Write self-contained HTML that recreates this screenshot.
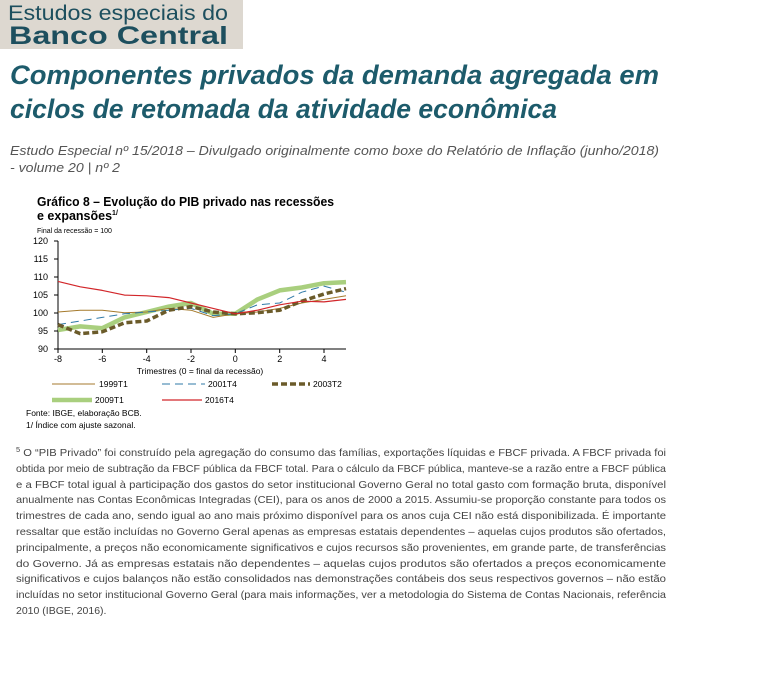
<!DOCTYPE html>
<html><head><meta charset="utf-8"><style>
html,body{margin:0;padding:0;background:#fff;}
svg{display:block;font-family:"Liberation Sans",sans-serif;}
</style></head><body>
<svg width="781" height="687" viewBox="0 0 781 687" xmlns="http://www.w3.org/2000/svg">
<rect x="0" y="0" width="243" height="49" fill="#ddd8d0"/>
<text x="8" y="20" font-size="21" fill="#1d4f5e" textLength="220" lengthAdjust="spacingAndGlyphs">Estudos especiais do</text>
<text x="9" y="44" font-size="25" font-weight="bold" fill="#1d4f5e" textLength="219" lengthAdjust="spacingAndGlyphs">Banco Central</text>

<g font-style="italic" font-weight="bold" fill="#1d5b6b" font-size="27">
<text x="10" y="84" textLength="649" lengthAdjust="spacingAndGlyphs">Componentes privados da demanda agregada em</text>
<text x="10" y="118" textLength="547" lengthAdjust="spacingAndGlyphs">ciclos de retomada da atividade econômica</text>
</g>
<g font-style="italic" fill="#555" font-size="13">
<text x="10" y="155" textLength="649" lengthAdjust="spacingAndGlyphs">Estudo Especial nº 15/2018 – Divulgado originalmente como boxe do Relatório de Inflação (junho/2018)</text>
<text x="10" y="172" textLength="110" lengthAdjust="spacingAndGlyphs">- volume 20 | nº 2</text>
</g>

<g fill="#000">
<text x="37" y="206" font-size="12.5" font-weight="bold" textLength="297" lengthAdjust="spacingAndGlyphs">Gráfico 8 – Evolução do PIB privado nas recessões</text>
<text x="37" y="220" font-size="12.5" font-weight="bold">e expansões<tspan font-size="7" dy="-5">1/</tspan></text>
<text x="37" y="233" font-size="7">Final da recessão = 100</text>
</g>

<g font-size="9" fill="#000" text-anchor="end">
<text x="48" y="244">120</text><text x="48" y="262">115</text><text x="48" y="280">110</text>
<text x="48" y="298">105</text><text x="48" y="316">100</text><text x="48" y="334">95</text><text x="48" y="352">90</text>
</g>
<g stroke="#000" stroke-width="1">
<line x1="58" y1="241" x2="58" y2="349"/>
<line x1="58" y1="349" x2="346" y2="349"/>
<path d="M54 241h4M54 259h4M54 277h4M54 295h4M54 313h4M54 331h4M54 349h4"/>
<path d="M58 349v4M102.3 349v4M146.7 349v4M191 349v4M235.3 349v4M279.7 349v4M324 349v4"/>
</g>
<g font-size="9" fill="#000" text-anchor="middle">
<text x="58" y="362">-8</text><text x="102.3" y="362">-6</text><text x="146.7" y="362">-4</text><text x="191" y="362">-2</text>
<text x="235.3" y="362">0</text><text x="279.7" y="362">2</text><text x="324" y="362">4</text>
<text x="200" y="374" font-size="8.5">Trimestres (0 = final da recessão)</text>
</g>

<g fill="none" stroke-linejoin="round">
<polyline stroke="#a9cf7e" stroke-width="4.5" points="58,330.0 80.2,326.4 102.3,328.2 124.5,317.4 146.7,312.0 168.8,306.6 191,303.0 213.2,313.8 235.3,313.8 257.5,299.4 279.7,290.4 301.8,287.5 324,283.2 346,282.1"/>
<polyline stroke="#a57a2c" stroke-width="1" points="58,312.0 80.2,310.2 102.3,310.2 124.5,312.7 146.7,312.0 168.8,308.4 191,310.2 213.2,317.4 235.3,313.8 257.5,312.0 279.7,308.4 301.8,303.0 324,299.4 346,295.8"/>
<polyline stroke="#2f79a7" stroke-width="1" stroke-dasharray="8,5" points="58,324.6 80.2,321.0 102.3,317.4 124.5,313.8 146.7,312.0 168.8,310.2 191,308.4 213.2,315.6 235.3,313.8 257.5,304.8 279.7,303.0 301.8,292.2 324,286.1 346,292.2"/>
<polyline stroke="#6b5b2a" stroke-width="3.5" stroke-dasharray="6,3" points="58,324.6 80.2,333.6 102.3,331.8 124.5,322.8 146.7,321.0 168.8,310.2 191,306.6 213.2,312.0 235.3,313.8 257.5,312.7 279.7,310.2 301.8,301.2 324,294.0 346,288.6"/>
<polyline stroke="#d2262a" stroke-width="1.2" points="58,281.4 80.2,286.8 102.3,290.4 124.5,295.1 146.7,295.8 168.8,297.6 191,303.0 213.2,308.4 235.3,313.8 257.5,310.2 279.7,304.8 301.8,301.2 324,301.9 346,299.4"/>
</g>

<g font-size="8.5" fill="#000">
<line x1="52" y1="384" x2="95" y2="384" stroke="#a57a2c" stroke-width="1"/><text x="99" y="387">1999T1</text>
<line x1="162" y1="384" x2="205" y2="384" stroke="#2f79a7" stroke-width="1" stroke-dasharray="8,5"/><text x="208" y="387">2001T4</text>
<line x1="272" y1="384" x2="310" y2="384" stroke="#6b5b2a" stroke-width="3.5" stroke-dasharray="6,3"/><text x="313" y="387">2003T2</text>
<line x1="52" y1="400" x2="92" y2="400" stroke="#a9cf7e" stroke-width="4.5"/><text x="95" y="403">2009T1</text>
<line x1="162" y1="400" x2="202" y2="400" stroke="#d2262a" stroke-width="1.2"/><text x="205" y="403">2016T4</text>
<text x="26" y="416">Fonte: IBGE, elaboração BCB.</text>
<text x="26" y="428">1/ Índice com ajuste sazonal.</text>
</g>

<g font-size="10.5" fill="#444">
<text x="16" y="456" textLength="650" lengthAdjust="spacingAndGlyphs"><tspan font-size="7" dy="-4">5</tspan><tspan dy="4"> O “PIB Privado” foi construído pela agregação do consumo das famílias, exportações líquidas e FBCF privada. A FBCF privada foi</tspan></text>
<text x="16" y="472" textLength="650" lengthAdjust="spacingAndGlyphs">obtida por meio de subtração da FBCF pública da FBCF total. Para o cálculo da FBCF pública, manteve-se a razão entre a FBCF pública</text>
<text x="16" y="488" textLength="650" lengthAdjust="spacingAndGlyphs">e a FBCF total igual à participação dos gastos do setor institucional Governo Geral no total gasto com formação bruta, disponível</text>
<text x="16" y="503" textLength="650" lengthAdjust="spacingAndGlyphs">anualmente nas Contas Econômicas Integradas (CEI), para os anos de 2000 a 2015. Assumiu-se proporção constante para todos os</text>
<text x="16" y="519" textLength="650" lengthAdjust="spacingAndGlyphs">trimestres de cada ano, sendo igual ao ano mais próximo disponível para os anos cuja CEI não está disponibilizada. É importante</text>
<text x="16" y="535" textLength="650" lengthAdjust="spacingAndGlyphs">ressaltar que estão incluídas no Governo Geral apenas as empresas estatais dependentes – aquelas cujos produtos são ofertados,</text>
<text x="16" y="551" textLength="650" lengthAdjust="spacingAndGlyphs">principalmente, a preços não economicamente significativos e cujos recursos são provenientes, em grande parte, de transferências</text>
<text x="16" y="567" textLength="650" lengthAdjust="spacingAndGlyphs">do Governo. Já as empresas estatais não dependentes – aquelas cujos produtos são ofertados a preços economicamente</text>
<text x="16" y="582" textLength="650" lengthAdjust="spacingAndGlyphs">significativos e cujos balanços não estão consolidados nas demonstrações contábeis dos seus respectivos governos – não estão</text>
<text x="16" y="598" textLength="650" lengthAdjust="spacingAndGlyphs">incluídas no setor institucional Governo Geral (para mais informações, ver a metodologia do Sistema de Contas Nacionais, referência</text>
<text x="16" y="614">2010 (IBGE, 2016).</text>
</g>
</svg>
</body></html>
